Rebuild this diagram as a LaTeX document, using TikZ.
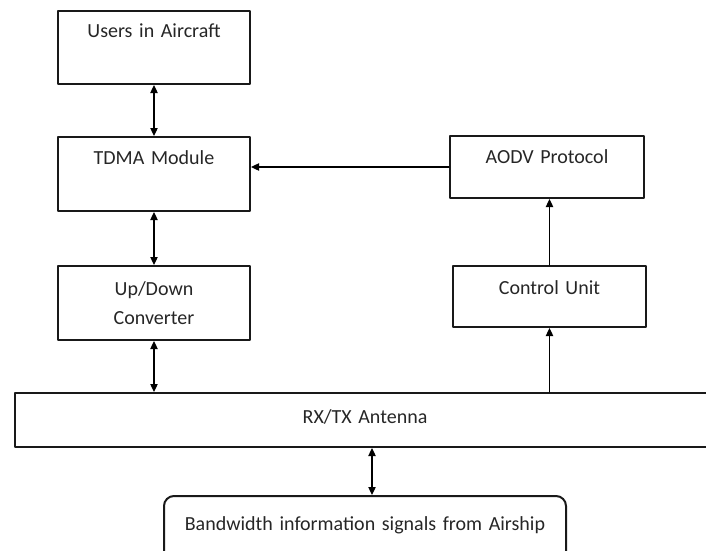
\documentclass[tikz,border=0pt]{standalone}
\usepackage{fontspec}
\setmainfont{Carlito}
\usetikzlibrary{arrows.meta}

\tikzset{
  blok/.style={draw=black!90, line width=1.5pt, inner sep=0pt, align=center,
    text=black!85, font=\fontsize{15}{21.75}\selectfont, anchor=north west},
  link/.style={line width=0.9pt, -{Triangle[length=6pt,width=5.5pt]}},
  both/.style={line width=0.9pt, {Triangle[length=6pt,width=5.5pt]}-{Triangle[length=6pt,width=5.5pt]}},
}

\begin{document}
\begin{tikzpicture}[x=0.75pt, y=-0.75pt, line cap=round, line join=round]
\useasboundingbox (0,0) rectangle (706,550);
\clip (0,0) rectangle (706,550);

% left column
\node[blok, text width=144pt, text height=19.5pt, text depth=35.25pt] (users) at (57,10) {Users in Aircraft};
\node[blok, text width=144pt, text height=20.25pt, text depth=35.25pt] (tdma) at (57,136) {TDMA Module};
\node[blok, text width=144pt, text height=21.75pt, text depth=33.75pt] (updown) at (57,265) {Up/Down\\Converter};

% right column
\node[blok, text width=145.5pt, text height=20.25pt, text depth=26.25pt] (aodv) at (449,135) {AODV Protocol};
\node[blok, text width=144.75pt, text height=21pt, text depth=24.75pt] (ctrl) at (452,265) {Control Unit};

% antenna and source
\node[blok, text width=525pt, text height=22.5pt, text depth=18pt] (rxtx) at (14,392) {RX/TX Antenna};
\node[blok, rounded corners=7.5pt, text width=301.5pt, text height=25.5pt, text depth=23.25pt] (bw) at (163,495) {Bandwidth information signals from Airship};

\draw[both] (users) -- (tdma);
\draw[both] (tdma) -- (updown);
\draw[both] (updown.south) -- (updown.south |- rxtx.north);
\draw[both] ([xshift=5.25pt]bw.north) -- ([xshift=5.25pt]bw.north |- rxtx.south);

\draw[link] (ctrl.south |- rxtx.north) -- (ctrl.south);
\draw[link] (ctrl.north) -- (ctrl.north |- aodv.south);
\draw[link] (aodv.west) -- (aodv.west -| tdma.east);

\end{tikzpicture}
\end{document}
